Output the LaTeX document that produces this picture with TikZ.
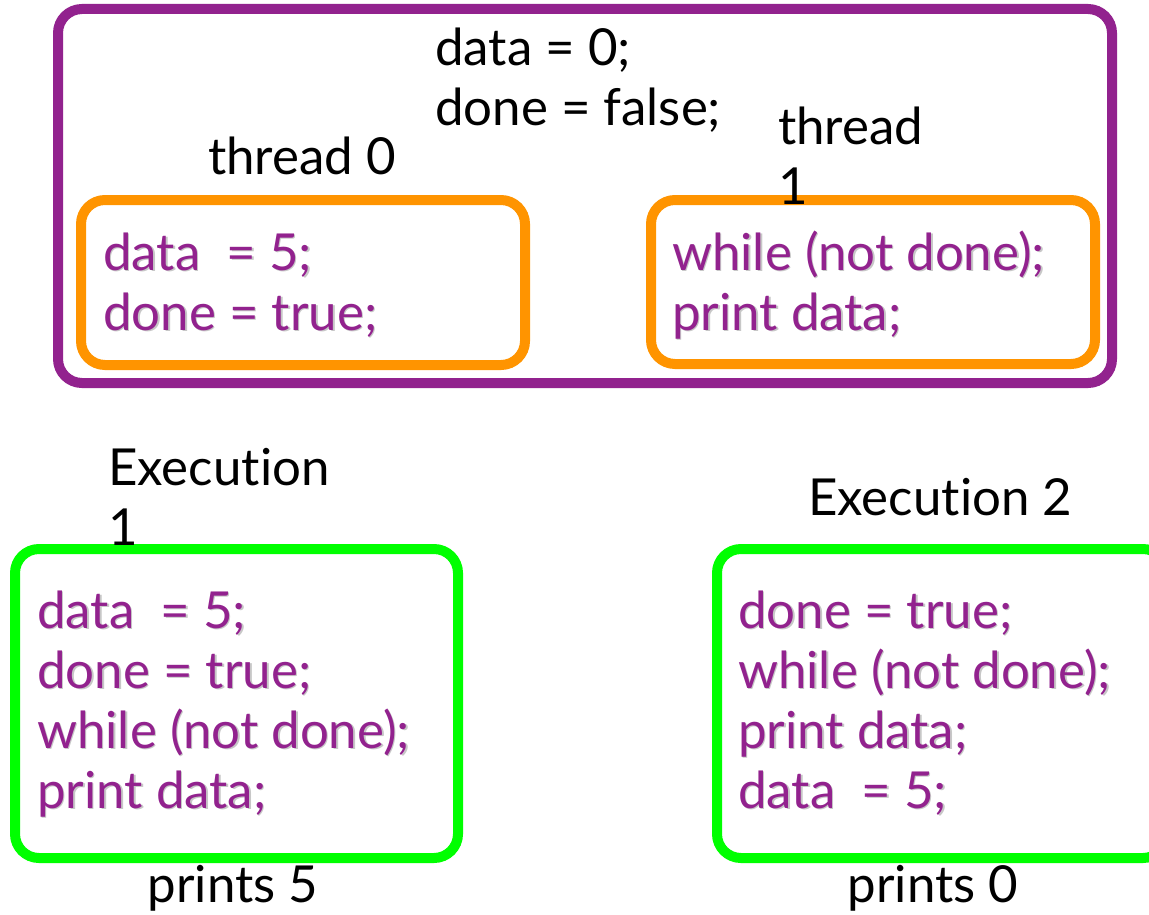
\documentclass[tikz,border=0pt]{standalone}
\usepackage{fontspec}
\setmainfont{Lato}[Ligatures=NoCommon, RawFeature={-liga;-calt;-dlig}]
\definecolor{vio}{RGB}{146,34,142}
\definecolor{org}{RGB}{255,148,0}
\definecolor{grn}{RGB}{0,255,0}
\newcommand\shd[1]{\makebox[0pt][l]{\kern1.6pt\raisebox{-1.6pt}{\textcolor{black!22}{#1}}}#1}
\newcommand\codelines[1]{\begin{tabular}[t]{@{}l@{}}#1\end{tabular}}
\begin{document}
\begin{tikzpicture}[x=1pt,y=-1pt,
  box/.style={rounded corners=24pt, line width=10pt, inner sep=0pt},
  lbl/.style={anchor=base west, inner sep=0pt, font=\fontsize{51}{60}\selectfont},
  code/.style={lbl, text=vio}]
\useasboundingbox (0,0) rectangle (1149,915);
\clip (0,0) rectangle (1149,915);
% boxes
\node[box, draw=vio, minimum width=1054pt, minimum height=374pt] (outer) at (585,196) {};
\node[box, draw=org, minimum width=444pt, minimum height=165pt] (t0box) at (303,282.5) {};
\node[box, draw=org, minimum width=444pt, minimum height=164pt] (t1box) at (873,282) {};
\node[box, draw=grn, minimum width=443pt, minimum height=309pt] (e1box) at (236.5,703.5) {};
\node[box, draw=grn, minimum width=450pt, minimum height=309pt] (e2box) at (942,703.5) {};
% labels
\node[lbl] (init) at (435,66) {\codelines{data = 0;\\ done = false;}};
\node[lbl] (t0lbl) at (208,175) {thread 0};
\node[lbl] (t1lbl) at (778,145) {\codelines{thread\\ 1}};
\node[lbl] (e1lbl) at (108,485) {\codelines{Execu\kern0pt tion\\ 1}};
\node[lbl] (e2lbl) at (808,515) {Execu\kern0pt tion 2};
\node[lbl, anchor=base] (p5) at (233,902) {prints 5};
\node[lbl, anchor=base] (p0) at (933,902) {prints 0};
% code
\node[code] (t0code) at (103,270) {\codelines{\shd{data\ \ = 5;}\\ \shd{done = true;}}};
\node[code] (t1code) at (672,270) {\codelines{\shd{while (not done);}\\ \shd{print data;}}};
\node[code] (e1code) at (37,628) {\codelines{\shd{data\ \ = 5;}\\ \shd{done = true;}\\ \shd{while (not done);}\\ \shd{print data;}}};
\node[code] (e2code) at (738,628) {\codelines{\shd{done = true;}\\ \shd{while (not done);}\\ \shd{print data;}\\ \shd{data\ \ = 5;}}};
\end{tikzpicture}
\end{document}
